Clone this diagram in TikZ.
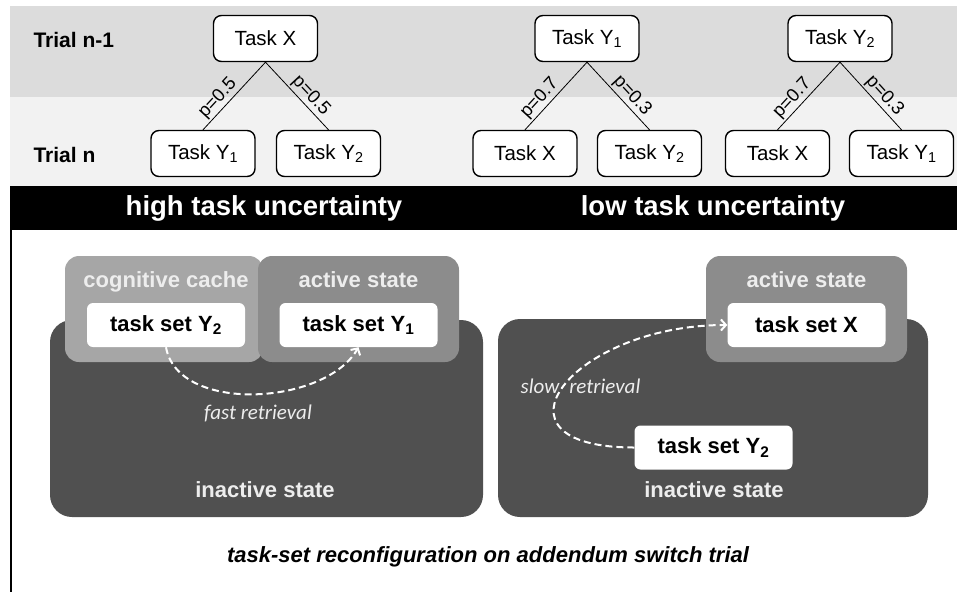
\documentclass[tikz,border=0pt]{standalone}
\usepackage{fontspec}
\setmainfont{Liberation Sans}
\newfontfamily\notefont{Carlito}
\usetikzlibrary{arrows.meta, positioning}
\definecolor{bandtop}{HTML}{DCDCDC}
\definecolor{bandlow}{HTML}{F2F2F2}
\definecolor{cachegray}{HTML}{A6A6A6}
\definecolor{activegray}{HTML}{8C8C8C}
\definecolor{idlegray}{HTML}{505050}
\definecolor{paletext}{HTML}{EDEDED}
\tikzset{
  taskbox/.style={
    rectangle, rounded corners=8pt,
    draw=black, fill=white, line width=1.4pt,
    minimum width=104pt, minimum height=46pt,
    font=\fontsize{20.5}{24}\selectfont
  },
  trialtag/.style={anchor=west, font=\bfseries\fontsize{21}{25}\selectfont},
  probtag/.style={sloped, above, inner sep=1.5pt, font=\fontsize{18.5}{22}\selectfont},
  branch/.style={line width=0.8pt},
  bartag/.style={text=white, font=\bfseries\fontsize{27.5}{32}\selectfont},
  setbox/.style={
    rectangle, rounded corners=6pt, fill=white,
    minimum width=158pt, minimum height=44pt,
    font=\bfseries\fontsize{22}{26}\selectfont
  },
  statetag/.style={anchor=base, text=paletext, font=\bfseries\fontsize{22}{26}\selectfont},
  notetag/.style={text=paletext, font=\notefont\itshape\fontsize{21}{25}\selectfont},
  retrieve/.style={-{Straight Barb[length=5pt,width=11pt]}, dash pattern=on 7pt off 4pt,
                   line width=2pt, draw=white},
}
\begin{document}
\begin{tikzpicture}[x=1pt, y=1pt]
  \useasboundingbox (0,0) rectangle (957,-592);

  % trial bands and the black title bar
  \fill[bandtop] (10,-6) rectangle (957,-97);
  \fill[bandlow] (10,-97) rectangle (957,-186);
  \fill[black] (10,-186) rectangle (957,-230);
  \draw[line width=2pt] (11,-230) -- (11,-592);

  \node[trialtag] (prevtag) at (30,-40) {Trial n-1};
  \node[trialtag] (curtag) at (30,-155) {Trial n};

  % transition trees
  \node[taskbox] (rootA) at (265.5,-38.5) {Task X};
  \node[taskbox] (rootB) at (587,-38.5) {Task Y\textsubscript{1}};
  \node[taskbox] (rootC) at (840,-38.5) {Task Y\textsubscript{2}};
  \node[taskbox] (leafA1) at (203,-153.5) {Task Y\textsubscript{1}};
  \node[taskbox] (leafA2) at (328.5,-153.5) {Task Y\textsubscript{2}};
  \node[taskbox] (leafB1) at (525,-153.5) {Task X};
  \node[taskbox] (leafB2) at (649.5,-153.5) {Task Y\textsubscript{2}};
  \node[taskbox] (leafC1) at (777.5,-153.5) {Task X};
  \node[taskbox] (leafC2) at (901.5,-153.5) {Task Y\textsubscript{1}};

  \draw[branch] (leafA1.north) -- node[probtag, pos=0.36] {p=0.5} (rootA.south);
  \draw[branch] (rootA.south) -- node[probtag, pos=0.6] {p=0.5} (leafA2.north);
  \draw[branch] (leafB1.north) -- node[probtag, pos=0.36] {p=0.7} (rootB.south);
  \draw[branch] (rootB.south) -- node[probtag, pos=0.6] {p=0.3} (leafB2.north);
  \draw[branch] (leafC1.north) -- node[probtag, pos=0.36] {p=0.7} (rootC.south);
  \draw[branch] (rootC.south) -- node[probtag, pos=0.6] {p=0.3} (leafC2.north);

  \node[bartag] (highbar) at (264,-208) {high task uncertainty};
  \node[bartag] (lowbar) at (713,-208) {low task uncertainty};

  % high uncertainty: cache next to the active state
  \fill[idlegray, rounded corners=22pt] (50,-320) rectangle (483,-517);
  \fill[cachegray, rounded corners=14pt] (65,-256) rectangle (263,-362);
  \fill[activegray, rounded corners=14pt] (258,-256) rectangle (459,-362);
  \node[setbox] (cacheY) at (166,-325) {task set Y\textsubscript{2}};
  \node[setbox] (liveY) at (358.5,-325) {task set Y\textsubscript{1}};
  \node[statetag] (cachetag) at (166,-287) {cognitive cache};
  \node[statetag] (livetagA) at (358.5,-287) {active state};
  \node[statetag] (idletagA) at (265,-497) {inactive state};
  \draw[retrieve] (cacheY.south) to[out=-80, in=-120, looseness=0.9]
    node[notetag, below=6pt, xshift=4pt] {fast retrieval} (liveY.south);

  % low uncertainty: fetch from the inactive state
  \fill[idlegray, rounded corners=22pt] (498,-319) rectangle (928,-517);
  \fill[activegray, rounded corners=14pt] (706,-256) rectangle (907,-362);
  \node[setbox] (liveX) at (806.5,-325) {task set X};
  \node[setbox] (idleY) at (713.5,-447.5) {task set Y\textsubscript{2}};
  \node[statetag] (livetagB) at (806.5,-287) {active state};
  \node[statetag] (idletagB) at (714,-497) {inactive state};
  \draw[retrieve] (idleY.west) to[out=180, in=180, looseness=2.6]
    node[notetag, xshift=17pt] {slow\hspace{10pt}retrieval} (liveX.west);

  \node[font=\bfseries\itshape\fontsize{22}{26}\selectfont] (caption) at (488,-557)
    {task-set reconfiguration on addendum switch trial};
\end{tikzpicture}
\end{document}
